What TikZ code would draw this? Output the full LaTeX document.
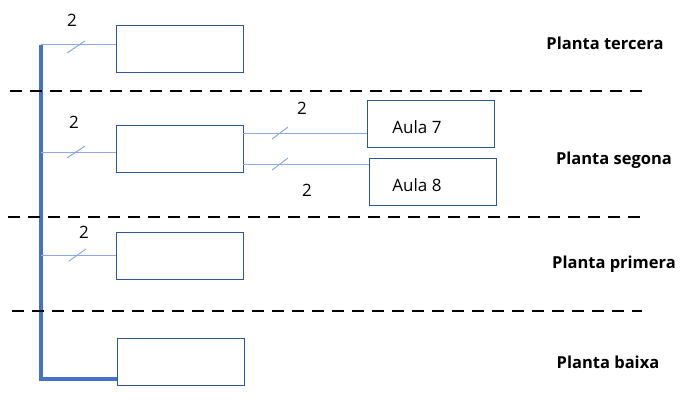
\documentclass[tikz,border=0pt]{standalone}
\usepackage{fontspec}
\setmainfont{Open Sans}
\usetikzlibrary{calc}
\definecolor{busblue}{HTML}{4472C4}
\definecolor{wireblue}{HTML}{8FAADC}
\definecolor{boxblue}{HTML}{2F5597}
\tikzset{
  room/.style={draw=boxblue, line width=1.3pt, minimum width=127pt, minimum height=47pt, inner sep=0pt, anchor=north west},
  bus/.style={draw=busblue, line width=4pt},
  wire/.style={draw=wireblue, line width=1pt},
  slashmark/.style={draw=wireblue, line width=1pt},
  floorline/.style={draw=black, line width=2.2pt, dash pattern=on 12pt off 8pt},
  count/.style={font=\fontsize{17}{20}\selectfont, inner sep=0pt},
  floorlabel/.style={font=\fontsize{16.5}{20}\selectfont\bfseries, inner sep=0pt},
  roomlabel/.style={font=\fontsize{17}{20}\selectfont, inner sep=0pt}
}
\begin{document}
\begin{tikzpicture}[x=1pt,y=-1pt]
\useasboundingbox (0,0) rectangle (680,412);
% boxes
\node[room] (b3) at (116,25) {};
\node[room] (b2) at (116,125) {};
\node[room] (b1) at (116,232) {};
\node[room] (b0) at (117,338) {};
\node[room] (a7) at (367,100) {};
\node[room] (a8) at (369,158) {};
\node[roomlabel] at (417,127) {Aula 7};
\node[roomlabel] at (417,185) {Aula 8};
% bus
\coordinate (bustop) at (41,45);
\coordinate (buscorner) at (41,379);
\draw[bus] (bustop) -- (buscorner) -- (b0.south west |- buscorner);
% feeders
\coordinate (t3) at (41,45);
\coordinate (t2) at (41,152);
\coordinate (t1) at (41,255);
\draw[wire] (t3) -- (b3.west |- t3);
\draw[wire] (t2) -- (b2.west |- t2);
\draw[wire] (t1) -- (b1.west |- t1);
\coordinate (s7) at (243,133);
\coordinate (s8) at (243,164);
\draw[wire] (s7) -- (a7.west |- s7);
\draw[wire] (s8) -- (a8.west |- s8);
% slashes
\draw[slashmark] (67,53) -- (85,41);
\draw[slashmark] (67,158) -- (85,146);
\draw[slashmark] (69,261) -- (86,249);
\draw[slashmark] (272,139) -- (288,127);
\draw[slashmark] (272,170) -- (288,158);
% counts
\node[count] at (72,20) {2};
\node[count] at (74,122) {2};
\node[count] at (302,108) {2};
\node[count] at (307,190) {2};
\node[count] at (84,232) {2};
% floor separators
\coordinate (d1a) at (10,91); \coordinate (d1b) at (642,91);
\coordinate (d2a) at (8,217); \coordinate (d2b) at (642,217);
\coordinate (d3a) at (12,311); \coordinate (d3b) at (642,311);
\draw[floorline] (d1a) -- (d1b);
\draw[floorline] (d2a) -- (d2b);
\draw[floorline] (d3a) -- (d3b);
% floor labels
\node[floorlabel] at (605,43) {Planta tercera};
\node[floorlabel] at (614,160) {Planta segona};
\node[floorlabel] at (614,264) {Planta primera};
\node[floorlabel] at (608,362) {Planta baixa};
\end{tikzpicture}
\end{document}
